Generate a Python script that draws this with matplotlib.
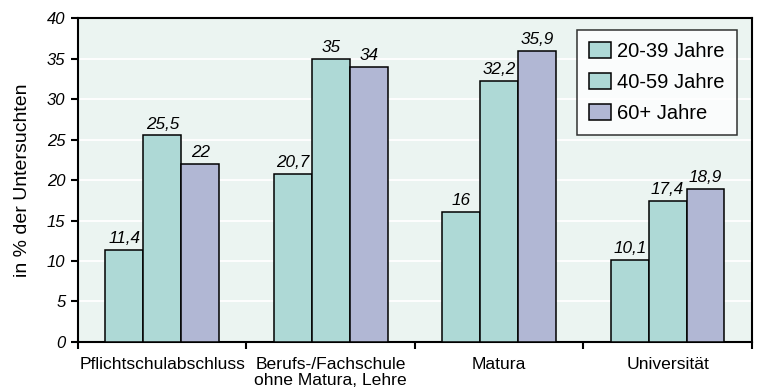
import matplotlib
matplotlib.use("Agg")
import matplotlib.pyplot as plt
import numpy as np
from matplotlib.patches import Patch

categories = ["Pflichtschulabschluss", "Berufs-/Fachschule\nohne Matura, Lehre", "Matura", "Universität"]
series_names = ["20-39 Jahre", "40-59 Jahre", "60+ Jahre"]
v_20_39 = [11.4, 20.7, 16.0, 10.1]
v_40_59 = [25.5, 35.0, 32.2, 17.4]
v_60p = [22.0, 34.0, 35.9, 18.9]
value_labels = [["11,4", "20,7", "16", "10,1"],
                ["25,5", "35", "32,2", "17,4"],
                ["22", "34", "35,9", "18,9"]]
yticks = [0, 5, 10, 15, 20, 25, 30, 35, 40]

plt.rcParams['font.family'] = ['Liberation Sans', 'DejaVu Sans']

teal = "#aed9d6"
lav = "#b1b7d4"
bg = "#ebf4f1"
colors = [teal, teal, lav]

fig = plt.figure(figsize=(7.58, 3.92), dpi=100)
ax = fig.add_axes([0.1029, 0.1276, 0.889, 0.8264])
ax.set_facecolor(bg)

x = np.arange(len(categories))
w = 0.225
for i, vals in enumerate([v_20_39, v_40_59, v_60p]):
    pos = x + (i - 1) * w
    ax.bar(pos, vals, width=w, color=colors[i], edgecolor="black", linewidth=1.1, zorder=3)
    for p, v, lab in zip(pos, vals, value_labels[i]):
        ax.annotate(lab, (p, v), xytext=(0, 5), textcoords="offset points",
                    ha="center", va="baseline", fontsize=12.3, style="italic",
                    zorder=4)

ax.set_xlim(-0.5, len(categories) - 0.5)
ax.set_ylim(0, 40)
ax.set_yticks(yticks)
ax.set_yticklabels([str(t) for t in yticks], fontsize=12, style="italic")
ax.yaxis.grid(True, color="white", linewidth=1.3, zorder=0)
ax.set_axisbelow(True)

ax.set_xticks(x)
ax.set_xticklabels(categories, fontsize=12.6, linespacing=1.05)
ax.tick_params(axis="x", length=0, pad=11)
ax.set_xticks(np.arange(-0.5, len(categories)), minor=True)
ax.tick_params(axis="x", which="minor", length=5, width=1.5, direction="out")
ax.tick_params(axis="y", length=5, width=1.5, direction="out", pad=4)

for s in ax.spines.values():
    s.set_linewidth(1.5)
    s.set_color("black")

ax.set_ylabel("in % der Untersuchten", fontsize=14)
ax.yaxis.set_label_coords(-0.07, 0.5)

handles = [Patch(facecolor=c, edgecolor="black", linewidth=1.1) for c in colors]
leg = ax.legend(handles, series_names, loc="upper right", bbox_to_anchor=(0.978, 0.963),
                fontsize=14.5, frameon=True, fancybox=False, edgecolor="black",
                handlelength=1.1, handleheight=0.85, handletextpad=0.3,
                labelspacing=0.6, borderpad=0.6, borderaxespad=0)
leg.get_frame().set_linewidth(1.1)
leg.get_frame().set_facecolor("white")

fig.savefig("out.png", dpi=100)
